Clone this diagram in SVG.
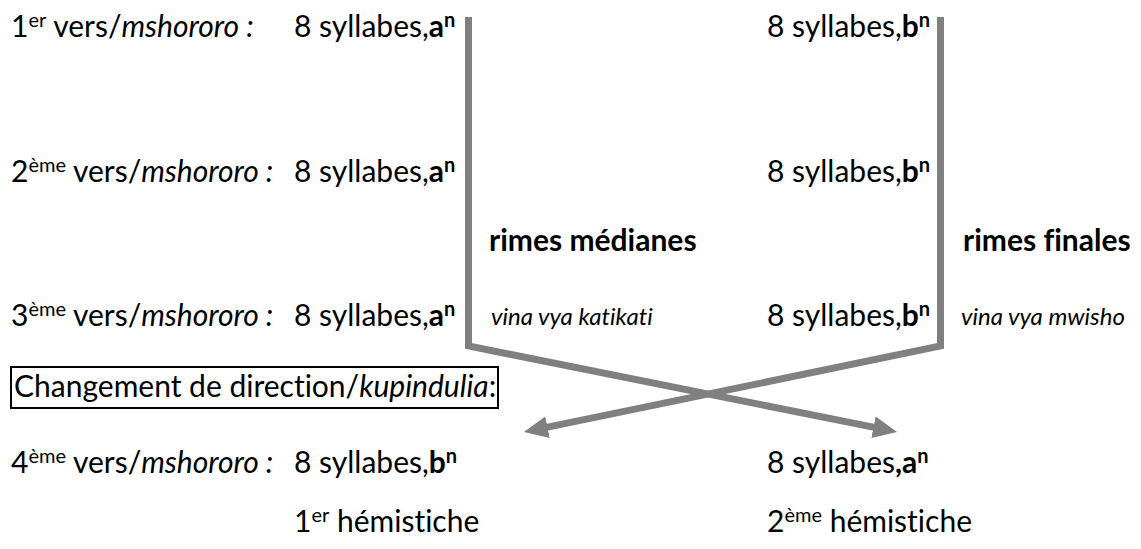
<svg xmlns="http://www.w3.org/2000/svg" width="1141" height="549" viewBox="0 0 1141 549">
<style>
text{font-family:Lato,"Liberation Sans",sans-serif;font-size:30px;fill:#000;font-variant-ligatures:no-common-ligatures}
.i{font-style:italic}
.b{font-weight:bold}
.s{font-size:20px}
.sm{font-size:24px;font-style:italic}
.bar{fill:none;stroke:#808080;stroke-width:7;stroke-linejoin:miter}
</style>
<defs>
<marker id="ah" viewBox="0 0 24 22" markerWidth="24" markerHeight="22" refX="6" refY="11" orient="auto" markerUnits="userSpaceOnUse">
<path d="M0,0 L24,11 L0,22 z" fill="#808080"/>
</marker>
</defs>
<rect width="1141" height="549" fill="#fff"/>
<g id="connectors">
<path class="bar" d="M468.5,17 V346 L879.4,428.4" marker-end="url(#ah)"/>
<path class="bar" d="M940.5,17 V346 L541.6,428.4" marker-end="url(#ah)"/>
</g>
<g id="row1">
<text x="11" y="37">1<tspan class="s" dy="-10">er</tspan><tspan dy="10"> vers/</tspan><tspan class="i">mshororo :</tspan></text>
<text x="294" y="37">8 syllabes,<tspan class="b">a</tspan><tspan class="b s" dy="-10">n</tspan></text>
<text x="767" y="37">8 syllabes,<tspan class="b">b</tspan><tspan class="b s" dy="-10">n</tspan></text>
</g>
<g id="row2">
<text x="11" y="182">2<tspan class="s" dy="-10">ème</tspan><tspan dy="10"> vers/</tspan><tspan class="i">mshororo :</tspan></text>
<text x="294" y="182">8 syllabes,<tspan class="b">a</tspan><tspan class="b s" dy="-10">n</tspan></text>
<text x="767" y="182">8 syllabes,<tspan class="b">b</tspan><tspan class="b s" dy="-10">n</tspan></text>
</g>
<g id="rimes">
<text x="489" y="251" class="b">rimes médianes</text>
<text x="963" y="251" class="b">rimes finales</text>
<text x="491" y="325" class="sm">vina vya katikati</text>
<text x="961" y="325" class="sm">vina vya mwisho</text>
</g>
<g id="row3">
<text x="11" y="326">3<tspan class="s" dy="-10">ème</tspan><tspan dy="10"> vers/</tspan><tspan class="i">mshororo :</tspan></text>
<text x="294" y="326">8 syllabes,<tspan class="b">a</tspan><tspan class="b s" dy="-10">n</tspan></text>
<text x="767" y="326">8 syllabes,<tspan class="b">b</tspan><tspan class="b s" dy="-10">n</tspan></text>
</g>
<g id="change">
<rect x="11" y="367" width="487" height="41" fill="none" stroke="#000" stroke-width="2"/>
<text x="14" y="397">Changement de direction/<tspan class="i">kupindulia</tspan>:</text>
</g>
<g id="row4">
<text x="11" y="473">4<tspan class="s" dy="-10">ème</tspan><tspan dy="10"> vers/</tspan><tspan class="i">mshororo :</tspan></text>
<text x="294" y="473">8 syllabes,<tspan class="b">b</tspan><tspan class="b s" dy="-10">n</tspan></text>
<text x="767" y="473">8 syllabes<tspan class="b">,a</tspan><tspan class="b s" dy="-10">n</tspan></text>
</g>
<g id="hemistiches">
<text x="294" y="532">1<tspan class="s" dy="-10">er</tspan><tspan dy="10"> hémistiche</tspan></text>
<text x="767" y="532">2<tspan class="s" dy="-10">ème</tspan><tspan dy="10"> hémistiche</tspan></text>
</g>
</svg>
